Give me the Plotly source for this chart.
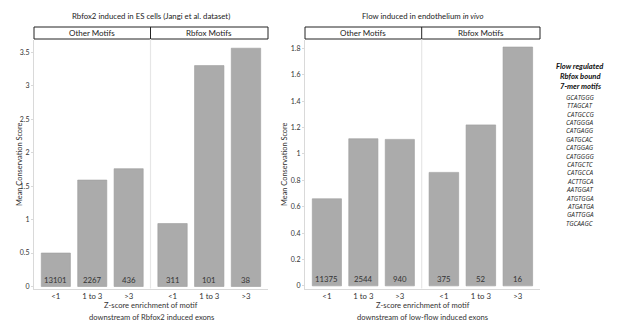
import plotly.graph_objects as go

W, H = 617, 322

# ---- data ----
categories = ["<1", "1 to 3", ">3"]
facets = ["Other Motifs", "Rbfox Motifs"]

es_other = [0.50, 1.59, 1.76]
es_rbfox = [0.94, 3.30, 3.56]
es_other_n = ["13101", "2267", "436"]
es_rbfox_n = ["311", "101", "38"]

flow_other = [0.66, 1.115, 1.11]
flow_rbfox = [0.86, 1.22, 1.81]
flow_other_n = ["11375", "2544", "940"]
flow_rbfox_n = ["375", "52", "16"]

left_yticks = [0, 0.5, 1, 1.5, 2, 2.5, 3, 3.5]
left_yticktext = ["0", "0.5", "1", "1.5", "2", "2.5", "3", "3.5"]
right_yticks = [0, 0.2, 0.4, 0.6, 0.8, 1.0, 1.2, 1.4, 1.6, 1.8]
right_yticktext = ["0", "0.2", "0.4", "0.6", "0.8", "1", "1.2", "1.4", "1.6", "1.8"]

left_title = "Rbfox2 induced in ES cells (Jangi et al. dataset)"
right_title = "Flow induced in endothelium <i>in vivo</i>"
y_title = "Mean Conservation Score"
left_xtitle = ["Z-score enrichment of motif", "downstream of Rbfox2 induced exons"]
right_xtitle = ["Z-score enrichment of motif", "downstream of low-flow induced exons"]

motif_header = ["Flow regulated", "Rbfox bound", "7-mer motifs"]
motifs = ["GCATGGG", "TTAGCAT", "CATGCCG", "CATGGGA", "CATGAGG", "GATGCAC",
          "CATGGAG", "CATGGGG", "CATGCTC", "CATGCCA", "ACTTGCA", "AATGGAT",
          "ATGTGGA", "ATGATGA", "GATTGGA", "TGCAAGC"]

# ---- layout helpers ----
FONT = "Lato"
TXT = "#333333"
BAR = "#ababab"
GRID = "#d9d9d9"

def px(x):
    return x / W

def py(y):
    return 1 - y / H

plot_top, plot_bot = 39.5, 288.5
panels = [
    dict(x0=34, xm=150.5, x1=268, ytx=19),
    dict(x0=305, xm=421.7, x1=540, ytx=284),
]

fig = go.Figure()

series = [
    (es_other, es_other_n, "x", "y"),
    (es_rbfox, es_rbfox_n, "x2", "y"),
    (flow_other, flow_other_n, "x3", "y2"),
    (flow_rbfox, flow_rbfox_n, "x4", "y2"),
]
annotations = []
for vals, ns, xa, ya in series:
    fig.add_trace(go.Bar(
        x=categories, y=vals, xaxis=xa, yaxis=ya,
        marker=dict(color=BAR, line=dict(color="#9c9c9c", width=0.6)),
        hoverinfo="skip", showlegend=False,
    ))
    for c, n in zip(categories, ns):
        annotations.append(dict(text=n, xref=xa, yref=ya, x=c, y=0, yshift=6.5,
                                showarrow=False, xanchor="center", yanchor="middle",
                                font=dict(family=FONT, size=7.8, color=TXT)))

xcommon = dict(type="category", range=[-0.6, 2.6], showgrid=False, zeroline=False,
               showline=True, linecolor=GRID, linewidth=1, ticks="",
               tickfont=dict(family=FONT, size=7.8, color=TXT), fixedrange=True)
fig.update_layout(
    xaxis=dict(domain=[px(34), px(150.5)], anchor="y", **xcommon),
    xaxis2=dict(domain=[px(150.5), px(268)], anchor="y", **xcommon),
    xaxis3=dict(domain=[px(305), px(421.7)], anchor="y2", **xcommon),
    xaxis4=dict(domain=[px(421.7), px(540)], anchor="y2", **xcommon),
)
ycommon = dict(showgrid=False, zeroline=False, showline=True, linecolor=GRID, linewidth=1,
               ticks="outside", ticklen=2, tickcolor=GRID,
               tickfont=dict(family=FONT, size=7, color=TXT),
               domain=[py(plot_bot), py(plot_top)], fixedrange=True)
fig.update_layout(
    yaxis=dict(anchor="x", range=[-0.03, 3.69], tickvals=left_yticks, ticktext=left_yticktext, **ycommon),
    yaxis2=dict(anchor="x3", range=[-0.02, 1.867], tickvals=right_yticks, ticktext=right_yticktext, **ycommon),
)

shapes = []
for p, title, xt in zip(panels, [left_title, right_title], [left_xtitle, right_xtitle]):
    # facet strip
    shapes.append(dict(type="rect", xref="paper", yref="paper",
                       x0=px(p["x0"]), x1=px(p["x1"]), y0=py(39), y1=py(27),
                       line=dict(color="#222222", width=1), fillcolor="white"))
    shapes.append(dict(type="line", xref="paper", yref="paper",
                       x0=px(p["xm"]), x1=px(p["xm"]), y0=py(39), y1=py(27),
                       line=dict(color="#222222", width=1)))
    # facet divider in panel
    shapes.append(dict(type="line", xref="paper", yref="paper",
                       x0=px(p["xm"]), x1=px(p["xm"]), y0=py(plot_bot), y1=py(39),
                       line=dict(color="#e6e6e6", width=1.2)))
    for lab, cx in zip(facets, [(p["x0"] + p["xm"]) / 2, (p["xm"] + p["x1"]) / 2]):
        annotations.append(dict(text=lab, xref="paper", yref="paper", x=px(cx), y=py(33),
                                showarrow=False, xanchor="center", yanchor="middle",
                                font=dict(family=FONT, size=8, color="#222222")))
    annotations.append(dict(text=title, xref="paper", yref="paper",
                            x=px((p["x0"] + p["x1"]) / 2), y=py(16),
                            showarrow=False, xanchor="center", yanchor="middle",
                            font=dict(family=FONT, size=7.8, color="#222222")))
    annotations.append(dict(text=y_title, xref="paper", yref="paper", textangle=-90,
                            x=px(p["ytx"]), y=py((plot_top + plot_bot) / 2),
                            showarrow=False, xanchor="center", yanchor="middle",
                            font=dict(family=FONT, size=7.4, color=TXT)))
    for i, line in enumerate(xt):
        annotations.append(dict(text=line, xref="paper", yref="paper",
                                x=px((p["x0"] + p["x1"]) / 2), y=py(305 + 12 * i),
                                showarrow=False, xanchor="center", yanchor="middle",
                                font=dict(family=FONT, size=7.6, color=TXT)))

for i, line in enumerate(motif_header):
    annotations.append(dict(text="<b><i>" + line + "</i></b>", xref="paper", yref="paper",
                            x=px(580), y=py(65.7 + 10 * i), showarrow=False,
                            xanchor="center", yanchor="middle",
                            font=dict(family=FONT, size=7.6, color="#111111")))
for i, m in enumerate(motifs):
    annotations.append(dict(text="<i>" + m + "</i>", xref="paper", yref="paper",
                            x=px(580), y=py(97.3 + 8.4 * i), showarrow=False,
                            xanchor="center", yanchor="middle",
                            font=dict(family="Open Sans", size=6.4, color="#222222")))

fig.update_layout(
    width=W, height=H, autosize=False,
    margin=dict(l=0, r=0, t=0, b=0),
    paper_bgcolor="white", plot_bgcolor="white",
    bargap=0.2, shapes=shapes, annotations=annotations,
    font=dict(family=FONT, color=TXT),
)

fig.write_html("out.html", config={"displayModeBar": False},
               post_script="document.body.style.margin='0';")
